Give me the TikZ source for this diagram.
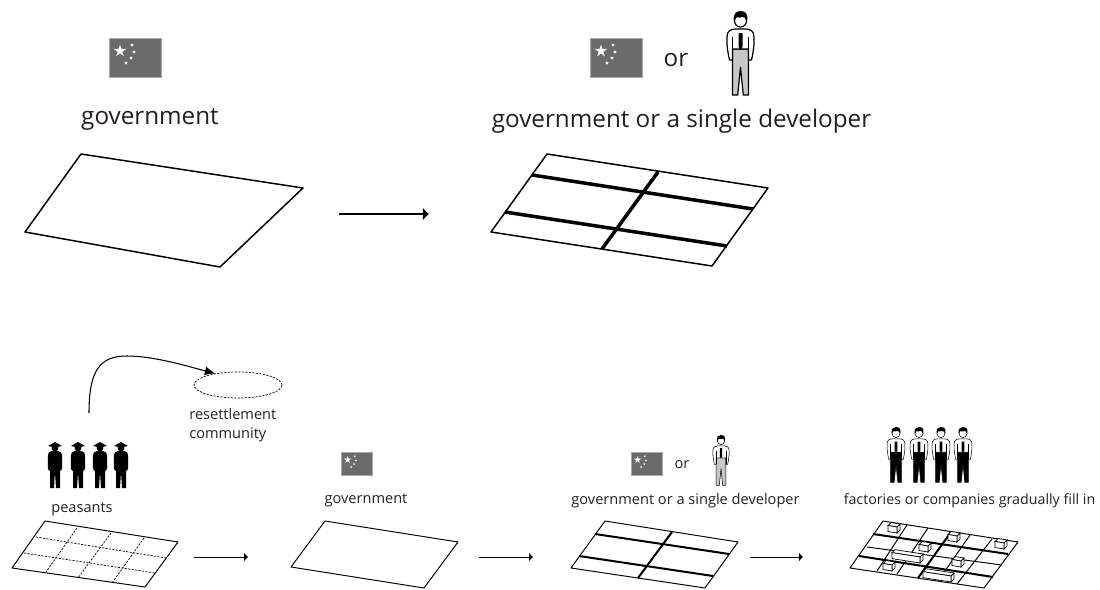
\documentclass[tikz,border=0pt]{standalone}
\usepackage{fontspec}
\setmainfont{Open Sans}
\usepackage{xcolor}
\usepackage{tikz}
\usetikzlibrary{arrows.meta,shapes.geometric}

\definecolor{flaggrey}{HTML}{6B6B6B}
\definecolor{flagedge}{HTML}{A8A8A8}
\definecolor{trousers}{HTML}{C8C8C8}
\definecolor{inktext}{HTML}{231F20}

\newcommand{\flagstar}[3]{\fill[white,shift={(#1,#2)},scale=#3] (0,-1)--(.22,-.31)--(.95,-.31)--(.36,.12)--(.59,.81)--(0,.38)--(-.59,.81)--(-.36,.12)--(-.95,-.31)--(-.22,-.31)--cycle;}

\tikzset{
  flagpic/.pic={
    \draw[fill=flaggrey,draw=flagedge,line width=.3pt] (0,0) rectangle (52,39);
    \flagstar{11}{13}{6.5}
    \flagstar{23}{7}{2}
    \flagstar{25}{14}{2}
    \flagstar{22}{20}{2}
    \flagstar{17}{25}{2}
  },
  manpic/.pic={
    \draw[fill=#1] (-8,38) -- (8,38) -- (8,84) -- (2.8,84) -- (0,56) -- (-2.8,84) -- (-8,84) -- cycle;
    \draw[fill=white] (-8,49) -- (-11,49) .. controls (-13,40) and (-14,32) .. (-13.5,26) .. controls (-13.5,20) and (-10,18) .. (-5,18) -- (5,18) .. controls (10,18) and (13.5,20) .. (13.5,26) .. controls (14,32) and (13,40) .. (11,49) -- (8,49) -- (8,38) -- (-8,38) -- cycle;
    \draw (-8,26) -- (-8,49);
    \draw (8,26) -- (8,49);
    \fill (-2,22) -- (2,22) -- (2,36) -- (0,39) -- (-2,36) -- cycle;
    \draw[fill=white] (0,10) circle (6);
    \fill (-6.5,10) .. controls (-8,3) and (-4,0) .. (0,0) .. controls (5,0) and (8,3) .. (6.5,10) .. controls (6,7) and (4,6) .. (2,6) .. controls (0,7) and (-3,7) .. (-4,6) .. controls (-5,7) and (-6,8) .. (-6.5,10) -- cycle;
  },
  peasantpic/.pic={
    \fill (-7,5) -- (0,1) -- (7,5) -- (2,6) -- (-2,6) -- cycle;
    \fill (0,7) circle (3.4);
    \fill (-3,10) .. controls (-6,10.5) and (-7.2,12) .. (-7.2,15) -- (-7,28) -- (-5,30) -- (-5,47) -- (-1,47) -- (0,31) -- (1,47) -- (5,47) -- (5,30) -- (7,28) -- (7.2,15) .. controls (7.2,12) and (6,10.5) .. (3,10) -- cycle;
  },
  boxpic/.pic={
    \draw[fill=white] (-6-#1,-2.5-.15*#1) -- (-3-#1,-5.5-.15*#1) -- (6,-4) -- (3,-1) -- cycle;
    \draw[fill=white] (3,-1) -- (6,-4) -- (6,2) -- (3,5) -- cycle;
    \draw[fill=white] (-6-#1,-2.5-.15*#1) -- (3,-1) -- (3,5) -- (-6-#1,3.5-.15*#1) -- cycle;
  },
  bigtext/.style={font=\fontsize{13.8}{16}\selectfont,text=inktext,inner sep=0pt},
  smalltext/.style={font=\fontsize{8.3}{11}\selectfont,text=inktext,inner sep=0pt},
  plotline/.style={line width=.85pt,line join=round},
  roadline/.style={line width=2pt},
  smallplot/.style={line width=.55pt,line join=round},
  smallroad/.style={line width=1.15pt},
  sideroad/.style={line width=.55pt},
  farmline/.style={line width=.4pt,dash pattern=on 1.2pt off .8pt},
  bigarrow/.style={line width=.7pt,-{Latex[length=3.5pt,width=7.5pt]}},
  smallarrow/.style={line width=.5pt,-{Latex[length=2.2pt,width=5pt]}},
  community/.style={draw,ellipse,line width=.4pt,dash pattern=on 1.2pt off .8pt,minimum width=1.76cm,minimum height=.52cm,inner sep=0pt}
}

\begin{document}
\begin{tikzpicture}[x=.02cm,y=-.02cm]
    \useasboundingbox (0,0) rectangle (1100,589);

    % top row
    \pic (flaga) at (109,38) {flagpic};
    \node[bigtext] (govta) at (150,119) {government};
    \draw[plotline] (81,154) -- (303,188) -- (220,267) -- (25,232) -- cycle;
    \coordinate (arrowastart) at (339,214);
    \coordinate (arrowaend) at (429,214);
    \draw[bigarrow] (arrowastart) -- (arrowaend);

    \pic (flagb) at (590,38) {flagpic};
    \node[bigtext] (ora) at (676,60) {or};
    \pic[line width=.7pt] (mana) at (740.5,11) {manpic=trousers};
    \node[bigtext] (devela) at (681.5,121) {government or a single developer};
    \draw[plotline] (547,154) -- (768,188) -- (712,266) -- (491,232) -- cycle;
    \draw[roadline] (532,175) -- (753,209);
    \draw[roadline] (505,212) -- (727,246);
    \draw[roadline] (658,172) -- (602,249);

    % bottom row
    \node[community] (resettle) at (238,385) {};
    \coordinate (movestart) at (89,413);
    \draw[line width=.6pt,-{Latex[length=6pt,width=5pt]}] (movestart) .. controls (89,370) and (100,356) .. (127,356) .. controls (155,356) and (190,367) .. (resettle.153);
    \node[smalltext,align=left,anchor=north west] (resettlelabel) at (189,408) {resettlement\\community};
    \foreach \px/\name in {55/a,78/b,100/c,121/d}
      \pic (peasant\name) at (\px,441) {peasantpic};
    \node[smalltext] (peasantlabel) at (82,509) {peasants};
    \draw[smallplot] (45,521) -- (178,542) -- (145,587) -- (12,568) -- cycle;
    \draw[farmline] (36,537) -- (166,558);
    \draw[farmline] (24,553) -- (155,573);
    \draw[farmline] (77,528) -- (46,572);
    \draw[farmline] (111,533) -- (78,578);
    \draw[farmline] (144,538) -- (112,583);
    \coordinate (arrowbstart) at (194,557);
    \coordinate (arrowbend) at (248,557);
    \draw[smallarrow] (arrowbstart) -- (arrowbend);

    \pic[scale=.6] (flagc) at (341,452) {flagpic};
    \node[smalltext] (govtb) at (366,500) {government};
    \draw[smallplot] (325,521) -- (458,542) -- (424,588) -- (291,567) -- cycle;
    \coordinate (arrowcstart) at (479,557);
    \coordinate (arrowcend) at (533,557);
    \draw[smallarrow] (arrowcstart) -- (arrowcend);

    \pic[scale=.6] (flagd) at (631,452) {flagpic};
    \node[smalltext] (orb) at (682,465) {or};
    \pic[scale=.6,line width=.3pt] (manb) at (721,435) {manpic=trousers};
    \node[smalltext] (develb) at (685.5,501) {government or a single developer};
    \draw[smallplot] (605,521) -- (738,542) -- (705,588) -- (571,568) -- cycle;
    \draw[smallroad] (595,534) -- (729,554);
    \draw[smallroad] (579,556) -- (713,576);
    \draw[smallroad] (672,532) -- (638,578);
    \coordinate (arrowdstart) at (750,557);
    \coordinate (arrowdend) at (803,557);
    \draw[smallarrow] (arrowdstart) -- (arrowdend);

    \foreach \px/\name in {896/a,919/b,941/c,963/d}
      \pic[scale=.66,line width=.3pt] (worker\name) at (\px,427) {manpic=black};
    \node[smalltext,font=\fontsize{8.1}{11}\selectfont] (filllabel) at (969.5,501) {factories or companies gradually fill in};
    \draw[smallplot] (883,521) -- (1018,542) -- (984,588) -- (850,568) -- cycle;
    \draw[smallroad] (873,534) -- (1008,554);
    \draw[smallroad] (859,556) -- (993,577);
    \draw[smallroad] (951,532) -- (918,578);
    \draw[sideroad] (867,547) -- (1002,565);
    \draw[sideroad] (907,525) -- (877,571);
    \draw[sideroad] (928,528) -- (897,574);
    \draw[sideroad] (970,535) -- (938,581);
    \draw[sideroad] (992,539) -- (957,584);
    \foreach \bx/\by in {894/528,925/547,954/537,1001/544,958/562,889/566}
      \pic[line width=.4pt] at (\bx,\by) {boxpic=0};
    \pic[line width=.4pt] at (917,558) {boxpic=19};
    \pic[line width=.4pt] at (948,577) {boxpic=19};
  \end{tikzpicture}
\end{document}
